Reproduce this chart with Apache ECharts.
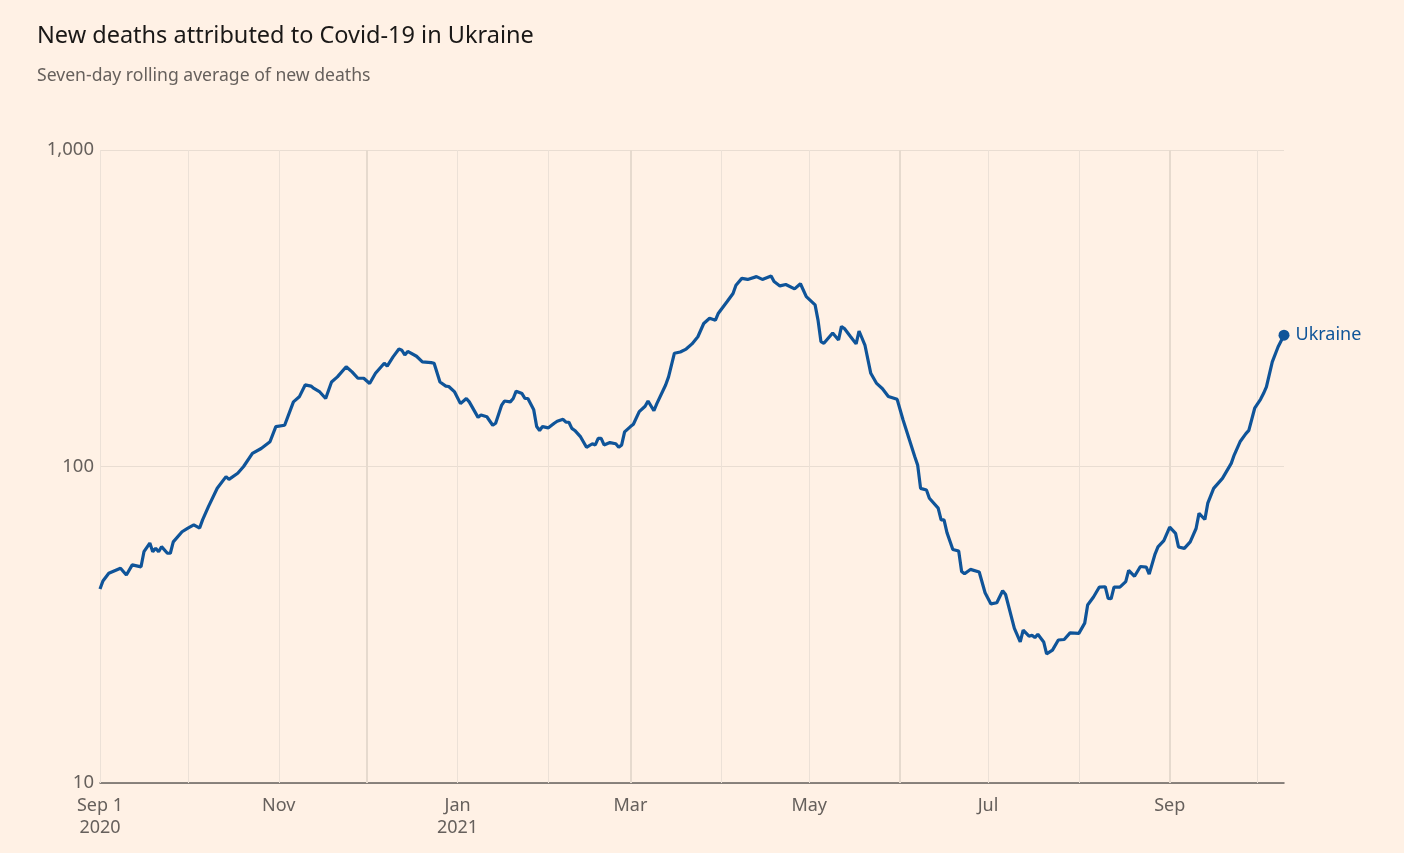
<!DOCTYPE html>
<html>
<head>
<meta charset="utf-8">
<title>New deaths attributed to Covid-19 in Ukraine</title>
<script src="https://cdn.jsdelivr.net/npm/echarts@6/dist/echarts.min.js"></script>
<style>
  html, body { margin: 0; padding: 0; background: #fff1e5; }
  #chart { width: 1404px; height: 853px; }
</style>
</head>
<body>
<div id="chart"></div>
<script>
// days since Sep 1 2020
const days = [
  0, 1, 3, 7, 9, 11, 14, 15, 17, 18, 19, 20, 21, 23, 24, 25, 28, 30, 32, 34,
  35, 37, 40, 43, 44, 47, 49, 52, 55, 58, 60, 63, 66, 68, 70, 72, 73, 75, 77, 79,
  81, 84, 86, 88, 90, 92, 94, 97, 98, 100, 102, 103, 104, 105, 108, 110, 113, 114, 116, 118,
  119, 121, 123, 125, 126, 129, 130, 132, 134, 135, 137, 138, 140, 141, 142, 144, 145, 146, 148, 149,
  150, 151, 153, 155, 156, 158, 159, 160, 161, 162, 164, 166, 168, 169, 170, 171, 172, 174, 176, 177,
  178, 179, 181, 182, 184, 186, 187, 189, 190, 193, 194, 196, 198, 200, 202, 204, 206, 208, 210, 211,
  214, 216, 217, 219, 221, 224, 226, 229, 230, 232, 234, 237, 239, 241, 244, 245, 246, 247, 250, 252,
  253, 254, 256, 258, 259, 261, 263, 265, 267, 269, 272, 274, 278, 279, 280, 282, 283, 286, 287, 288,
  289, 291, 293, 294, 295, 297, 300, 302, 304, 306, 308, 309, 312, 314, 315, 317, 318, 319, 320, 322,
  323, 325, 327, 329, 331, 334, 336, 337, 339, 341, 343, 344, 345, 346, 348, 350, 351, 353, 355, 357,
  358, 360, 361, 363, 365, 367, 368, 370, 372, 374, 375, 377, 378, 380, 383, 386, 387, 389, 391, 392,
  394, 396, 397, 398, 400, 402, 404
];
const deaths = [
  41, 43.5, 46, 47.7, 45.4, 48.9, 48.2, 53.8, 57.3, 53.8, 55.2, 53.8, 55.8, 53.2, 53.2, 57.8, 62.2, 63.9, 65.4, 63.9,
  67.8, 74.7, 85.4, 92.9, 91.1, 95.2, 100, 110, 114, 119.7, 133.7, 135, 160, 166, 181, 179.5, 176.5, 172, 164, 185,
  192, 206.6, 199, 190, 190, 183, 197, 212, 207.6, 222, 235, 233, 225, 231, 223, 214, 213, 212, 185, 179.5,
  179, 172, 158, 164, 160, 143, 145.5, 143.6, 135, 137, 156, 161, 160, 164, 173, 170, 164, 164, 151, 133.7,
  130, 133.7, 132.5, 137, 139, 141, 138, 138, 132, 130, 124, 115, 118, 117, 122.7, 122.7, 117, 119, 118, 115,
  117, 128.6, 133.7, 136, 149, 155, 161, 150, 158, 181, 192, 228, 230, 235, 244, 257, 283, 294, 290, 305,
  332, 352, 374, 393, 390, 398, 390, 400, 384, 372, 376, 364, 378, 344, 324, 290, 248, 245, 264, 251,
  277, 273, 258, 244, 268, 242, 197, 183, 176, 166.5, 163, 140.5, 107.5, 101, 85.3, 84.3, 79.4, 73.9, 67.8, 67.8,
  61.8, 54.7, 54.1, 46.6, 45.8, 47.3, 46.4, 39.9, 36.8, 37.1, 40.5, 39.4, 30.8, 27.9, 30.4, 29.1, 29.3, 28.8, 29.5, 27.9,
  25.6, 26.3, 28.3, 28.4, 29.8, 29.7, 32, 36.5, 38.7, 41.6, 41.7, 38.3, 38.2, 41.6, 41.6, 43.3, 47, 45, 48.3, 48.1,
  45.7, 52.9, 55.7, 58.3, 64.3, 61.5, 55.7, 55.1, 57.8, 63.7, 71.1, 68, 76.6, 85.3, 91.7, 102.3, 108.7, 119.7, 127, 130,
  152.8, 163, 170, 178.6, 214, 239, 260
];

// month starts (days since Sep 1 2020) for the vertical grid
const monthDays = [0, 30, 61, 91, 122, 153, 181, 212, 242, 273, 303, 334, 365, 395];
const quarterDays = [91, 181, 273, 365];
const labelDays = [0, 61, 122, 181, 242, 303, 365];
const labelText = ['Sep 1\n2020', 'Nov', 'Jan\n2021', 'Mar', 'May', 'Jul', 'Sep'];
const yTicks = [10, 100, 1000];
const countryName = 'Ukraine';

const chart = echarts.init(document.getElementById('chart'));

const seriesData = days.map((d, i) => [d, deaths[i]]);
const lastIndex = seriesData.length - 1;

chart.setOption({
  backgroundColor: '#fff1e5',
  animation: false,
  textStyle: { fontFamily: 'Noto Sans' },
  title: {
    text: 'New deaths attributed to Covid-19 in Ukraine',
    subtext: 'Seven-day rolling average of new deaths',
    left: 32,
    top: 19,
    itemGap: 19,
    textStyle: { fontSize: 23.5, fontWeight: 'normal', color: '#1a1817' },
    subtextStyle: { fontSize: 17.6, color: '#66605c' }
  },
  grid: {
    left: 100,
    right: 120,
    top: 150,
    bottom: 70
  },
  xAxis: {
    type: 'value',
    min: 0,
    max: 404,
    axisLine: { show: true, lineStyle: { color: '#66605c', width: 1.5 } },
    axisTick: { show: false },
    splitLine: { show: false },
    axisLabel: {
      customValues: labelDays,
      color: '#66605c',
      fontSize: 18,
      lineHeight: 22,
      margin: 12,
      formatter: v => {
        const i = labelDays.indexOf(v);
        return i >= 0 ? labelText[i] : '';
      }
    }
  },
  yAxis: {
    type: 'log',
    logBase: 10,
    min: 10,
    max: 1000,
    axisLine: { show: false },
    axisTick: { show: false },
    splitLine: { show: true, lineStyle: { color: '#e9ddd2', width: 1 } },
    axisLabel: {
      color: '#66605c',
      fontSize: 18.5,
      margin: 6,
      verticalAlign: 'middle',
      formatter: v => (yTicks.indexOf(Math.round(v)) >= 0 ? Math.round(v).toLocaleString('en-US') : '')
    }
  },
  series: [
    {
      type: 'line',
      data: [],
      silent: true,
      markLine: {
        silent: true,
        symbol: 'none',
        z: 1,
        label: { show: false },
        data: monthDays.map(d => ({
          xAxis: d,
          lineStyle: {
            type: 'solid',
            color: quarterDays.indexOf(d) >= 0 ? '#e6dace' : '#ece1d7',
            width: quarterDays.indexOf(d) >= 0 ? 2 : 1
          }
        }))
      }
    },
    {
      name: countryName,
      type: 'line',
      z: 3,
      data: seriesData,
      showSymbol: false,
      symbol: 'none',
      lineStyle: { color: '#0f5499', width: 3.2 },
      markPoint: {
        symbol: 'circle',
        symbolSize: 11,
        itemStyle: { color: '#0f5499' },
        label: {
          show: true,
          position: 'right',
          distance: 6,
          formatter: countryName,
          color: '#0f5499',
          fontSize: 18
        },
        data: [{ coord: seriesData[lastIndex] }]
      }
    }
  ]
});
</script>
</body>
</html>
